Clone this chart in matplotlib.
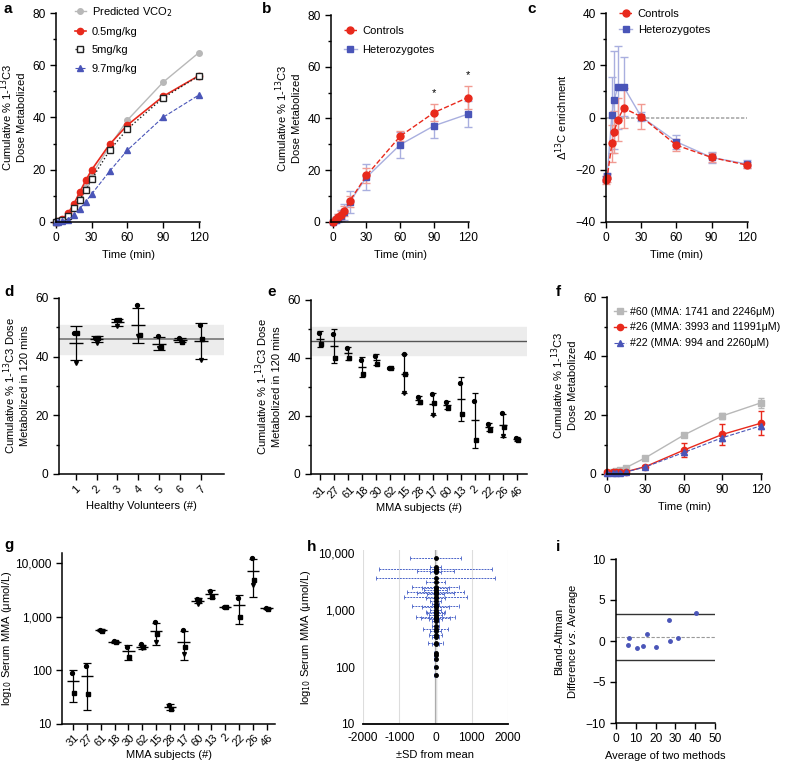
import numpy as np
import matplotlib
matplotlib.use("Agg")
import matplotlib.pyplot as plt
from matplotlib.ticker import MultipleLocator, FixedLocator, FuncFormatter

plt.rcParams['font.family'] = ['Liberation Sans', 'DejaVu Sans']
plt.rcParams['font.size'] = 8
plt.rcParams['xtick.labelsize'] = 8.6
plt.rcParams['ytick.labelsize'] = 8.6
plt.rcParams['axes.linewidth'] = 1.1
plt.rcParams['xtick.major.width'] = 1.0
plt.rcParams['ytick.major.width'] = 1.0
plt.rcParams['xtick.minor.width'] = 1.0
plt.rcParams['ytick.minor.width'] = 1.0
plt.rcParams['xtick.major.size'] = 4
plt.rcParams['ytick.major.size'] = 4
plt.rcParams['xtick.minor.size'] = 2.5
plt.rcParams['ytick.minor.size'] = 2.5

RED = '#e8291c'
LRED = '#f19a92'
BLUE = '#4a55b8'
LBLUE = '#a9afdf'
GRAY = '#b8b8b8'

# ===== a: dose comparison =====
t_a = [0, 2, 5, 10, 15, 20, 25, 30, 45, 60, 90, 120]
pred_vco2 = [0, 0.3, 1.0, 3.0, 6.0, 9.5, 13.5, 18.0, 29.0, 39.0, 53.5, 64.8]
dose_05 = [0, 0.3, 1.0, 3.3, 6.9, 11.5, 15.9, 20.0, 29.7, 37.1, 48.1, 56.0]
dose_5 = [0, 0.2, 0.6, 2.3, 5.2, 8.6, 12.2, 16.4, 27.4, 35.6, 47.5, 55.9]
dose_97 = [0, 0.1, 0.3, 0.9, 2.8, 5.1, 7.8, 10.7, 19.4, 27.5, 40.1, 48.6]

# ===== b: cumulative, controls vs heterozygotes =====
t_b = [0, 3, 5, 7, 10, 15, 30, 60, 90, 120]
ctrl_b = [0, 1.0, 1.8, 2.7, 4.2, 8.0, 18.0, 33.2, 42.3, 48.1]
ctrl_b_sd = [0.2, 0.8, 1.2, 1.5, 1.8, 2.2, 2.8, 2.0, 3.2, 4.3]
het_b = [0, 0.8, 1.6, 2.5, 3.8, 7.7, 17.3, 29.9, 37.2, 41.7]
het_b_sd = [0.2, 1.0, 1.6, 2.2, 3.0, 4.1, 5.0, 5.0, 4.6, 5.0]
star_t = [90, 120]

# ===== c: delta 13C enrichment =====
t_c = [0, 1, 5, 7, 10, 15, 30, 60, 90, 120]
ctrl_c = [-24.0, -23.0, -9.9, -5.4, -0.9, 3.6, 0.3, -10.6, -15.3, -18.2]
ctrl_c_sd = [1.5, 1.5, 7.2, 8.0, 8.2, 7.6, 4.8, 2.4, 1.8, 1.3]
het_c = [-23.6, -22.5, 1.0, 6.8, 11.5, 11.8, 0.3, -9.3, -15.3, -17.8]
het_c_sd = [1.2, 1.2, 14.5, 18.7, 15.9, 11.2, 1.8, 2.6, 2.0, 1.6]

# ===== d: healthy volunteers =====
vol_ids = ['1', '2', '3', '4', '5', '6', '7']
vol_vals = [[48.1, 48.1, 37.9], [46.5, 46.5, 44.7], [52.4, 52.4, 50.3],
            [57.5, 47.5, 47.0], [46.9, 43.3, 43.0], [46.5, 45.0, 45.6],
            [50.9, 46.1, 39.0]]
ref_mean, ref_lo, ref_hi = 45.9, 40.9, 50.8

# ===== e / g: MMA subjects =====
mma_ids = ['31', '27', '61', '18', '30', '62', '15', '28', '17', '60', '13', '2', '22', '26', '46']
e_vals = [[48.5, 44.7], [48.2, 40.0], [43.3, 40.1], [39.2, 34.5], [40.8, 38.0],
          [36.6, 36.6], [41.4, 34.5, 27.8], [26.6, 24.7], [27.6, 24.5, 20.3],
          [24.8, 22.7], [31.3, 20.6], [25.1, 11.8], [17.2, 15.2],
          [21.1, 16.3, 13.2], [12.5, 11.7]]
g_vals = [[90, 37], [121, 36], [575, 545], [345, 330], [272, 178],
          [305, 270, 255], [780, 480, 330], [23, 19], [560, 270, 200],
          [2150, 2050, 1750], [2960, 2323], [1530, 1490], [2260, 986],
          [12500, 4800, 3800], [1460, 1390]]

# ===== f: individual patients =====
t_f = [0, 5, 7, 10, 15, 30, 60, 90, 120]
p60 = [0.5, 0.7, 0.9, 1.2, 2.2, 5.5, 13.2, 19.7, 24.1]
p60_sd = [0.2, 0.2, 0.2, 0.3, 0.4, 0.6, 0.6, 1.0, 1.7]
p26 = [0.6, 0.6, 0.6, 0.7, 0.8, 2.5, 8.1, 13.4, 17.2]
p26_sd = [0.2, 0.2, 0.2, 0.2, 0.3, 0.4, 2.3, 3.5, 4.1]
p22 = [0.5, 0.5, 0.5, 0.5, 0.7, 2.4, 7.3, 12.3, 16.3]
p22_sd = [0.2, 0.2, 0.2, 0.2, 0.3, 0.4, 1.0, 1.0, 1.0]
f_labels = ['#60 (MMA: 1741 and 2246μM)', '#26 (MMA: 3993 and 11991μM)',
            '#22 (MMA: 994 and 2260μM)']

# ===== h: serum MMA mean and SD =====
h_mean = [8280, 5690, 5350, 4830, 4580, 3690, 3140, 2570, 2400, 2240, 2090, 2020,
          1880, 1720, 1600, 1440, 1290, 1190, 1130, 990, 930, 870, 820, 760, 730,
          700, 640, 520, 460, 420, 370, 340, 260, 250, 175, 160, 140, 100, 72]
h_sd = [700, 165, 1560, 500, 140, 1630, 260, 640, 370, 320, 780, 500,
        230, 870, 275, 165, 110, 640, 370, 140, 260, 230, 180, 550, 410,
        180, 90, 90, 350, 140, 180, 90, 200, 90, 40, 30, 30, 45, 30]
h_center = [0] * len(h_mean)

# ===== i: Bland-Altman =====
ba_avg = [5.9, 6.5, 10.6, 13.4, 15.6, 20.1, 26.7, 27.3, 31.5, 40.3]
ba_diff = [-0.45, 0.4, -0.8, -0.57, 0.85, -0.77, 2.6, 0.0, 0.37, 3.4]

W, H = 790, 766
fig = plt.figure(figsize=(W / 100, H / 100), dpi=100)


def box(l, t, r, b):
    return [l / W, 1 - b / H, (r - l) / W, (b - t) / H]


def clean(ax):
    for s in ['top', 'right']:
        ax.spines[s].set_visible(False)
    ax.tick_params(direction='out')


cum_label = 'Cumulative % 1-$^{13}$C3\nDose Metabolized'
leg_kw = dict(loc='upper left', frameon=False, handlelength=1.2, handletextpad=0.5,
              borderaxespad=0)

# ---- a ----
ax = fig.add_axes(box(56, 13, 200, 222))
clean(ax)
ax.plot(t_a, pred_vco2, '-o', color=GRAY, lw=1, ms=4, label='Predicted VCO$_2$', clip_on=False)
ax.plot(t_a, dose_05, '-o', color=RED, lw=1.2, ms=4.5, label='0.5mg/kg', clip_on=False)
ax.plot(t_a, dose_5, ':s', color='#222222', mfc='white', lw=1, ms=4, label='5mg/kg', clip_on=False)
ax.plot(t_a, dose_97, '--^', color=BLUE, lw=0.8, ms=4, label='9.7mg/kg', clip_on=False)
ax.set_xlim(0, 121)
ax.set_ylim(0, 80)
ax.set_xticks([0, 30, 60, 90, 120])
ax.set_yticks([0, 20, 40, 60, 80])
ax.yaxis.set_minor_locator(MultipleLocator(10))
ax.set_xlabel('Time (min)')
ax.set_ylabel(cum_label)
ax.legend(bbox_to_anchor=(0.1, 1.06), labelspacing=0.75, **{**leg_kw, 'handlelength': 1.0})

# ---- b ----
ax = fig.add_axes(box(331, 15, 469, 222))
clean(ax)
eh = ax.errorbar(t_b, het_b, yerr=het_b_sd, fmt='-s', color=LBLUE, mfc=BLUE, mec=BLUE, ms=5,
                 lw=1, ecolor=LBLUE, elinewidth=1, capsize=3, clip_on=False)
ec = ax.errorbar(t_b, ctrl_b, yerr=ctrl_b_sd, fmt='--o', color=RED, ms=5, lw=1,
                 ecolor=LRED, elinewidth=1, capsize=3, clip_on=False)
for t in star_t:
    i = t_b.index(t)
    ax.text(t, ctrl_b[i] + ctrl_b_sd[i] + 2.5, '*', ha='center', va='bottom', fontsize=8)
ax.set_xlim(-1.5, 121)
ax.set_ylim(0, 80)
ax.set_xticks([0, 30, 60, 90, 120])
ax.set_yticks([0, 20, 40, 60, 80])
ax.yaxis.set_minor_locator(MultipleLocator(10))
ax.set_xlabel('Time (min)')
ax.set_ylabel(cum_label)
ax.legend([ec[0], eh[0]], ['Controls', 'Heterozygotes'], bbox_to_anchor=(0.06, 0.97),
          labelspacing=0.8, **leg_kw)

# ---- c ----
ax = fig.add_axes(box(606, 13, 748, 222))
clean(ax)
ax.plot([0, 120], [0, 0], ls=(0, (2, 1)), color='#aaaaaa', lw=1.2, zorder=1)
eh = ax.errorbar(t_c, het_c, yerr=het_c_sd, fmt='-s', color=LBLUE, mfc=BLUE, mec=BLUE, ms=5,
                 lw=1, ecolor=LBLUE, elinewidth=1, capsize=3, clip_on=False)
ec = ax.errorbar(t_c, ctrl_c, yerr=ctrl_c_sd, fmt='--o', color=RED, ms=5, lw=1,
                 ecolor=LRED, elinewidth=1, capsize=3, clip_on=False)
ax.set_xlim(0, 121)
ax.set_ylim(-40, 40)
ax.set_xticks([0, 30, 60, 90, 120])
ax.set_yticks([-40, -20, 0, 20, 40])
ax.yaxis.set_minor_locator(MultipleLocator(10))
ax.set_xlabel('Time (min)')
ax.set_ylabel('Δ$^{13}$C enrichment')
ax.legend([ec[0], eh[0]], ['Controls', 'Heterozygotes'], bbox_to_anchor=(0.06, 1.04),
          labelspacing=0.5, **leg_kw)

# ---- scatter-with-mean helper ----
markers = ['o', 's', 'v']
offsets = [-0.07, 0.07, 0.0]


def dots(ax, groups, mean_w, cap, log=False):
    xs = np.arange(len(groups))
    for x, vals in zip(xs, groups):
        for k, v in enumerate(vals):
            ax.plot(x + offsets[k], v, marker=markers[k], color='black', ms=2.8, ls='none')
        v = np.array(vals, dtype=float)
        m, sd = v.mean(), v.std(ddof=1)
        ax.hlines(m, x - mean_w, x + mean_w, color='black', lw=1)
        lo = max(m - sd, 1e-3) if log else m - sd
        ax.errorbar([x], [m], yerr=[[m - lo], [sd]], fmt='none', ecolor='black',
                    elinewidth=0.9, capsize=cap, capthick=0.9)
    return xs


# ---- d ----
ax = fig.add_axes(box(59, 298, 224, 474))
clean(ax)
xs = dots(ax, vol_vals, 0.33, 4.5)
ax.axhspan(ref_lo, ref_hi, color='#ececec', zorder=0)
ax.axhline(ref_mean, color='#777777', lw=1.2, zorder=1)
ax.set_xlim(-0.8, 7.1)
ax.set_ylim(0, 60)
ax.set_xticks(xs)
ax.set_xticklabels(vol_ids, rotation=45, fontsize=8)
ax.set_yticks([0, 20, 40, 60])
ax.yaxis.set_minor_locator(MultipleLocator(10))
ax.set_xlabel('Healthy Volunteers (#)')
ax.set_ylabel('Cumulative % 1-$^{13}$C3 Dose\nMetabolized in 120 mins')

# ---- e ----
ax = fig.add_axes(box(311, 300, 527, 474))
clean(ax)
xs = dots(ax, e_vals, 0.27, 2.5)
ax.axhspan(ref_lo, ref_hi, color='#ececec', zorder=0)
ax.axhline(ref_mean, color='#555555', lw=1, zorder=1)
ax.set_xlim(-0.64, 14.7)
ax.set_ylim(0, 60)
ax.set_xticks(xs)
ax.set_xticklabels(mma_ids, rotation=45, fontsize=8)
ax.set_yticks([0, 20, 40, 60])
ax.yaxis.set_minor_locator(MultipleLocator(10))
ax.set_xlabel('MMA subjects (#)', labelpad=2)
ax.set_ylabel('Cumulative % 1-$^{13}$C3 Dose\nMetabolized in 120 mins')

# ---- f ----
ax = fig.add_axes(box(607, 297, 762, 474))
clean(ax)
e1 = ax.errorbar(t_f, p60, yerr=p60_sd, fmt='-s', color=GRAY, ms=4, lw=1, capsize=2.5,
                 clip_on=False)
e2 = ax.errorbar(t_f, p26, yerr=p26_sd, fmt='-o', color=RED, ms=4.5, lw=1, capsize=2.5,
                 clip_on=False)
e3 = ax.errorbar(t_f, p22, yerr=p22_sd, fmt='--^', color=BLUE, ms=4, lw=0.8, capsize=2.5,
                 clip_on=False)
ax.set_xlim(0, 121)
ax.set_ylim(0, 60)
ax.set_xticks([0, 30, 60, 90, 120])
ax.set_yticks([0, 20, 40, 60])
ax.yaxis.set_minor_locator(MultipleLocator(10))
ax.set_xlabel('Time (min)')
ax.set_ylabel(cum_label)
ax.legend([e1[0], e2[0], e3[0]], f_labels, bbox_to_anchor=(0.02, 0.97), labelspacing=0.55,
          fontsize=7.7, **{**leg_kw, 'handlelength': 1.1, 'handletextpad': 0.4})

# ---- g ----
log_fmt = FuncFormatter(lambda v, p: f'{int(v):,}')
ax = fig.add_axes(box(62, 553, 275, 724))
clean(ax)
ax.set_yscale('log')
xs = dots(ax, g_vals, 0.45, 3, log=True)
ax.set_xlim(-0.8, 14.6)
ax.set_ylim(10, 15300)
ax.yaxis.set_major_locator(FixedLocator([10, 100, 1000, 10000]))
ax.yaxis.set_major_formatter(log_fmt)
ax.yaxis.set_minor_locator(FixedLocator([]))
ax.set_xticks(xs)
ax.set_xticklabels(mma_ids, rotation=45, fontsize=8)
ax.tick_params(axis='x', pad=2)
ax.set_xlabel('MMA subjects (#)', labelpad=1)
ax.set_ylabel('log$_{10}$ Serum MMA (μmol/L)', labelpad=1)

# ---- h ----
ax = fig.add_axes(box(363, 550, 508, 724))
for s in ['top', 'right', 'left']:
    ax.spines[s].set_visible(False)
ax.spines['bottom'].set_linewidth(1.3)
ax.set_yscale('log')
ax.set_xlim(-2000, 2000)
ax.set_ylim(10, 11300)
ax.set_xticks([-2000, -1000, 0, 1000, 2000])
ax.set_xticklabels(['-2000', '-1000', '0', '1000', '2000'])
ax.grid(axis='x', color='#dddddd', lw=0.8)
ax.axvline(0, color='#aaaaaa', lw=1.6, zorder=1)
eb = ax.errorbar(h_center, h_mean, xerr=h_sd, fmt='none', ecolor='#4a63c8', elinewidth=0.7,
                 capsize=1.5, capthick=0.6, zorder=2)
eb[2][0].set_linestyle((0, (2, 1)))
ax.plot(h_center, h_mean, 'o', color='black', ms=2.5, zorder=3)
ax.yaxis.set_major_locator(FixedLocator([10, 100, 1000, 10000]))
ax.yaxis.set_major_formatter(log_fmt)
ax.yaxis.set_minor_locator(FixedLocator([]))
ax.tick_params(axis='both', length=0)
ax.tick_params(axis='y', pad=6)
ax.tick_params(axis='x', pad=6)
ax.set_xlabel('±SD from mean')
ax.set_ylabel('log$_{10}$ Serum MMA (μmol/L)')

# ---- i ----
ax = fig.add_axes(box(616, 559, 715, 723))
clean(ax)
d = np.array(ba_diff)
bias, sdd = d.mean(), d.std(ddof=1)
ax.axhline(bias + 1.96 * sdd, color='#333333', lw=1)
ax.axhline(bias - 1.96 * sdd, color='#333333', lw=1)
ax.axhline(bias, color='#999999', lw=0.8, ls=(0, (3, 1.5)))
ax.plot(ba_avg, ba_diff, 'o', color=BLUE, ms=2.5)
ax.set_xlim(0, 50)
ax.set_ylim(-10, 10)
ax.set_xticks([0, 10, 20, 30, 40, 50])
ax.set_yticks([-10, -5, 0, 5, 10])
ax.set_xlabel('Average of two methods')
ax.set_ylabel('Bland-Altman\nDifference $\\it{vs}$. Average')

# ---- panel letters ----
for letter, (x, y) in zip('abcdefghi', [(4, 9), (262, 9), (527, 9), (4, 292), (267, 292),
                                         (556, 292), (4, 545), (307, 547), (556, 547)]):
    fig.text(x / W, 1 - y / H, letter, fontsize=11, fontweight='bold', va='center', ha='left')

fig.savefig('out.png', dpi=100)
